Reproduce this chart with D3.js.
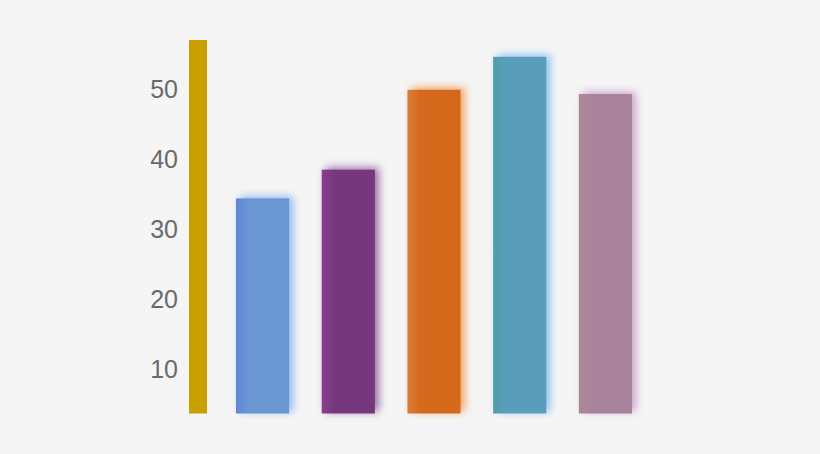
<!DOCTYPE html>
<html>
<head>
<meta charset="utf-8">
<script src="https://cdn.jsdelivr.net/npm/d3@7"></script>
<style>
  html, body { margin: 0; padding: 0; background: #f5f5f5; }
  svg { display: block; }
</style>
</head>
<body>
<div id="chart"></div>
<script>
const width = 820;
const height = 454;

// data
const categories = ["A", "B", "C", "D", "E"];
const values = [34.4, 38.5, 49.9, 54.6, 49.3];
const barColors = ["#6b97d2", "#74377c", "#d4691a", "#5a9dbb", "#a9839c"];
const edgeColors = ["#5f86d8", "#8b3f90", "#da7c3c", "#4f9ea9", "#a88a94"];
const glowColors = ["#8fb8f0", "#9a6aa6", "#f0a060", "#8cc0ee", "#c9a6d0"];
const tickValues = [10, 20, 30, 40, 50];
const yMin = 3.7, yMax = 57;

const svg = d3.select('#chart')
  .append('svg')
  .attr('width', width)
  .attr('height', height);

svg.append('rect')
  .attr('width', width)
  .attr('height', height)
  .attr('fill', '#f5f5f5');

// scales
const x = d3.scaleBand()
  .domain(categories)
  .range([236, 632])
  .paddingInner(0.38)
  .paddingOuter(0);

const y = d3.scaleLinear()
  .domain([yMin, yMax])
  .range([413.5, 40]);

const defs = svg.append('defs');

// glow + horizontal gradient per bar
categories.forEach((c, i) => {
  const f = defs.append('filter')
    .attr('id', 'glow' + i)
    .attr('x', '-40%').attr('y', '-30%')
    .attr('width', '180%').attr('height', '160%');
  f.append('feDropShadow')
    .attr('dx', 4).attr('dy', -2)
    .attr('stdDeviation', 4.5)
    .attr('flood-color', glowColors[i])
    .attr('flood-opacity', 1);

  const gr = defs.append('linearGradient')
    .attr('id', 'grad' + i)
    .attr('x1', '0%').attr('x2', '100%');
  gr.append('stop').attr('offset', '0%').attr('stop-color', edgeColors[i]);
  gr.append('stop').attr('offset', '25%').attr('stop-color', barColors[i]);
  gr.append('stop').attr('offset', '100%').attr('stop-color', barColors[i]);
});

// y "axis" as a thick gold bar
svg.append('rect')
  .attr('x', 189)
  .attr('width', 18)
  .attr('y', y(yMax))
  .attr('height', y(yMin) - y(yMax))
  .attr('fill', '#c9a000');

// tick labels
svg.append('g')
  .selectAll('text')
  .data(tickValues)
  .join('text')
    .attr('x', 178)
    .attr('y', d => y(d))
    .attr('dy', '0.36em')
    .attr('text-anchor', 'end')
    .attr('font-family', 'Liberation Sans, Arial, sans-serif')
    .attr('font-size', 25)
    .attr('fill', '#6a6a6a')
    .text(d => d);

// bars
svg.append('g')
  .selectAll('rect')
  .data(values)
  .join('rect')
    .attr('x', (d, i) => x(categories[i]))
    .attr('width', x.bandwidth())
    .attr('y', d => y(d))
    .attr('height', d => y(yMin) - y(d))
    .attr('fill', (d, i) => `url(#grad${i})`)
    .attr('filter', (d, i) => `url(#glow${i})`);
</script>
</body>
</html>
